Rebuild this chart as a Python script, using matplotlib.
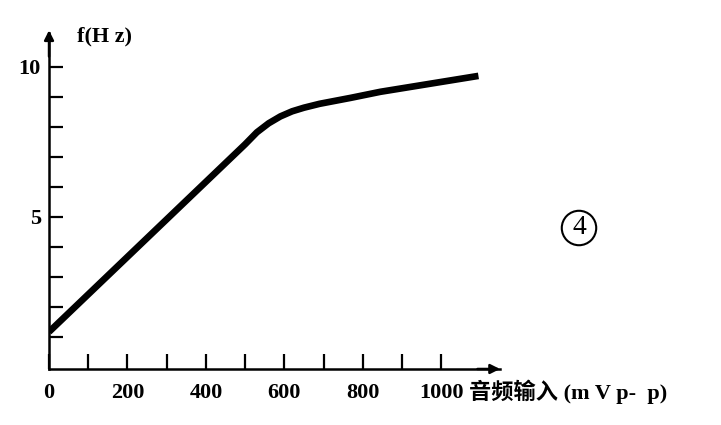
import matplotlib.pyplot as plt
import numpy as np

# curve: audio input (mVp-p) vs f (Hz)
x_in = [0, 100, 200, 300, 400, 500, 530, 560, 590, 620, 650, 690, 770, 845, 1095]
f_hz = [1.17, 2.42, 3.67, 4.92, 6.17, 7.42, 7.82, 8.12, 8.35, 8.52, 8.64, 8.77, 8.97, 9.17, 9.7]

x_ticks = list(range(0, 1001, 100))
x_labels = ['0', '', '200', '', '400', '', '600', '', '800', '', '1000']
y_ticks = list(range(1, 11))
y_labels = ['' if v not in (5, 10) else str(v) for v in y_ticks]

serif = ['Liberation Serif', 'DejaVu Serif']
cjk = ['Liberation Serif', 'Noto Sans CJK SC', 'DejaVu Sans']

fig = plt.figure(figsize=(7.21, 4.25), dpi=100)
ax = fig.add_axes([0.068, 0.1318, 0.6255, 0.7906])

ax.plot(x_in, f_hz, color='black', lw=4.8, solid_capstyle='butt', solid_joinstyle='round')

ax.set_xlim(0, 1150)
ax.set_ylim(-0.067, 11.13)
for s in ('top', 'right'):
    ax.spines[s].set_visible(False)
for s in ('left', 'bottom'):
    ax.spines[s].set_linewidth(1.8)

ax.set_xticks(x_ticks)
ax.set_xticklabels(x_labels, fontfamily=serif, fontweight='bold', fontsize=16)
ax.set_yticks(y_ticks)
ax.set_yticklabels(y_labels, fontfamily=serif, fontweight='bold', fontsize=16)
ax.tick_params(direction='in', length=10, width=1.6, pad=6)
ax.tick_params(axis='x', length=11, pad=10)

# axis arrows
ax.annotate('', xy=(0, 1.008), xytext=(0, 0.93), xycoords='axes fraction',
            arrowprops=dict(arrowstyle='-|>', color='black', lw=1.8,
                            mutation_scale=14, shrinkA=0, shrinkB=0))
ax.annotate('', xy=(1.0, 0), xytext=(0.95, 0), xycoords='axes fraction',
            arrowprops=dict(arrowstyle='-|>', color='black', lw=1.8,
                            mutation_scale=14, shrinkA=0, shrinkB=0))

fig.text(77 / 721, 1 - 36 / 425, 'f(H z)', fontfamily=serif, fontweight='bold',
         fontsize=16, va='center', ha='left')
fig.text(469 / 721, 1 - 392 / 425, '音频输入 (m V p-  p)', fontfamily=cjk,
         fontweight='bold', fontsize=16, va='center', ha='left')
fig.text(579 / 721, 1 - 228 / 425, '4', fontfamily=serif, fontsize=20,
         va='center', ha='center',
         bbox=dict(boxstyle='circle,pad=0.17', fc='none', ec='black', lw=1.5))

fig.savefig('out.png', dpi=100)
